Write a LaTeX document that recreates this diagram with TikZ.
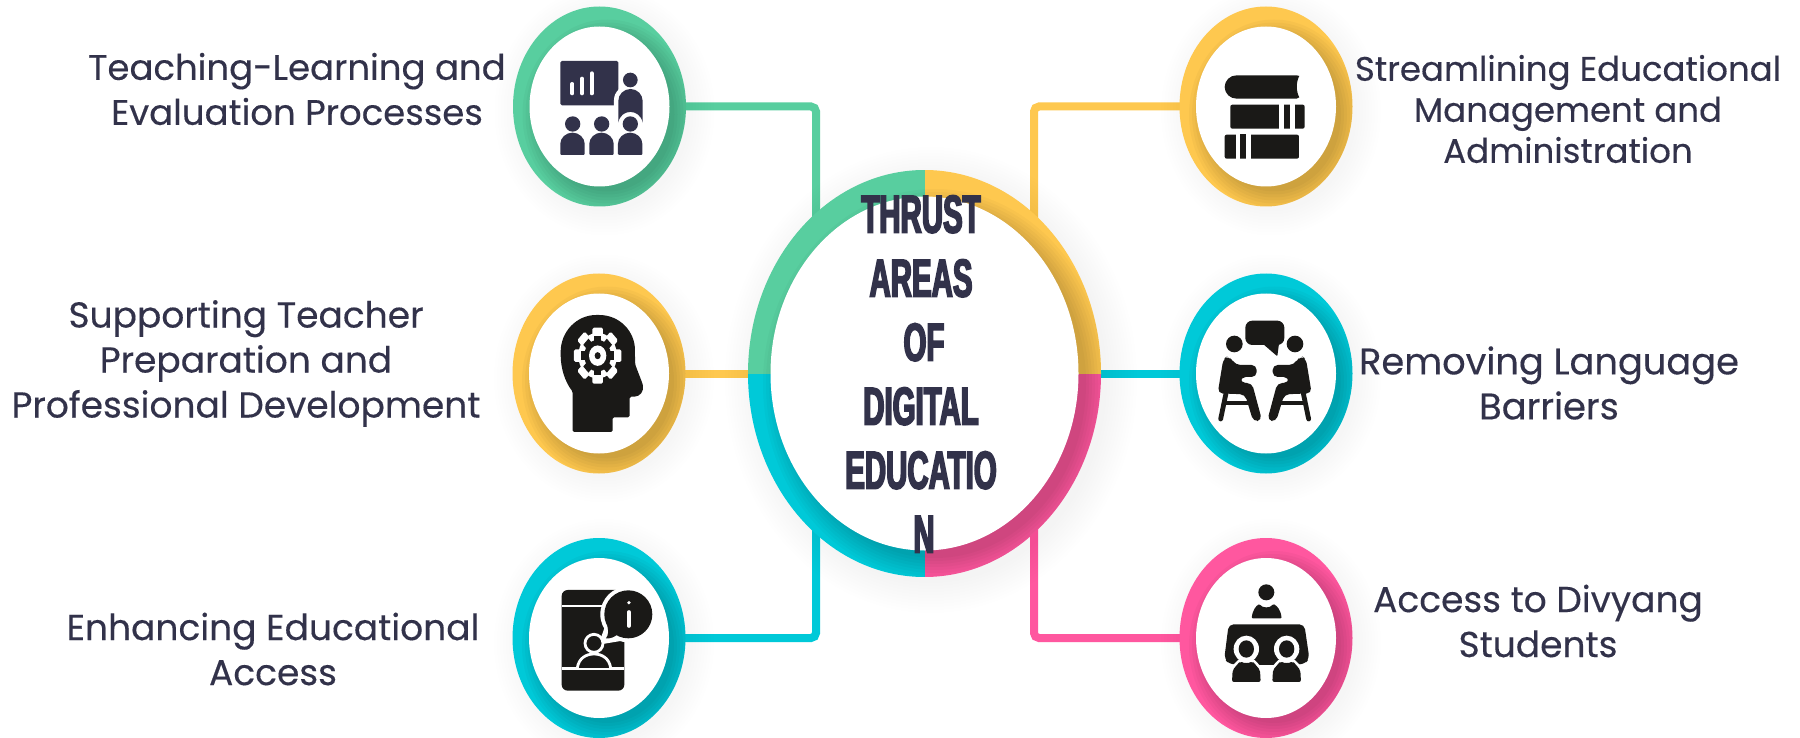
\documentclass[tikz,border=0pt]{standalone}
\usepackage{fontspec}
\usetikzlibrary{shapes.geometric,calc}
\setmainfont{Poppins}[FakeBold=0.3]
\newfontfamily\bebas[FakeStretch=0.55,BoldFeatures={FakeStretch=0.55,FakeBold=3}]{Liberation Sans}
\definecolor{gr}{HTML}{58CE9F}
\definecolor{ye}{HTML}{FEC84F}
\definecolor{cy}{HTML}{00C9D8}
\definecolor{pk}{HTML}{FF579F}
\definecolor{ink}{HTML}{32324A}
\definecolor{blk}{HTML}{1A1917}
\pgfdeclarelayer{bg}
\pgfsetlayers{bg,main}
\tikzset{
  satnode/.style={ellipse,inner sep=0pt,outer sep=0pt,minimum width=173pt,minimum height=200pt},
  hole/.style={ellipse,inner sep=0pt,outer sep=0pt,fill=white,minimum width=140pt,minimum height=160pt},
  hubnode/.style={ellipse,inner sep=0pt,outer sep=0pt,minimum width=353pt,minimum height=407pt},
  hubhole/.style={ellipse,inner sep=0pt,outer sep=0pt,fill=white,minimum width=308pt,minimum height=354pt},
  conn/.style={line width=8pt,rounded corners=5pt},
  lab/.style={align=center,text=ink,inner sep=0pt,font=\fontsize{36}{45}\selectfont},
  hubtext/.style={align=center,text=ink,inner sep=0pt,font=\bebas\bfseries\fontsize{53.5}{64}\selectfont},
  zoomed/.style={x=0.3333pt,y=-0.3333pt}
}
\newcommand\satellite[4]{%
  \foreach \k in {0,3,...,24}{\fill[black,opacity=.005] (#2+5,#3+5) circle[x radius={86+\k},y radius={100+\k}];}
  \node[satnode,fill=#4] (#1) at (#2,#3) {};
  \begin{scope}
    \clip (#2,#3) circle[x radius=86.5,y radius=100];
    \foreach \k in {-3,0,...,15}{\fill[black,opacity=.028] (#2+8,#3+8) circle[x radius={70+\k},y radius={80+\k}];}
  \end{scope}
  \node[hole] (#1h) at (#2,#3) {};
}
\newcommand\seatfig{%
  \fill[blk] (193,237) circle[radius=25];
  \fill[blk,rounded corners=5pt] (143,385) -- (160,282) -- (175,272) -- (190,290) -- (196,300) -- (260,300) -- (260,336) -- (212,336) -- (212,354) -- (246,354) -- (276,466) -- (250,470) -- (225,388) -- cycle;
  \draw[blk,line width=4.8pt,line cap=round] (168,385) -- (152,462);
  \draw[blk,line width=3.4pt] (165,414) -- (235,414);
}
\begin{document}
\begin{tikzpicture}[x=1pt,y=-1pt]
\useasboundingbox (0,0) rectangle (1800,738);

\satellite{s1}{599.5}{106.5}{gr}
\satellite{s2}{599}{373.5}{ye}
\satellite{s3}{599}{638}{cy}
\satellite{s4}{1266}{106.5}{ye}
\satellite{s5}{1266}{373.5}{cy}
\satellite{s6}{1266}{638}{pk}

% hub
\foreach \k in {0,3,...,30}{\fill[black,opacity=.005] (931,380) circle[x radius={176+\k},y radius={203+\k}];}
\node[hubnode] (hub) at (924.5,373.5) {};
\begin{scope}
  \clip (924.5,373.5) circle[x radius=176.5,y radius=203.5];
  \fill[gr] (740,160) rectangle (924.5,373.5);
  \fill[ye] (924.5,160) rectangle (1110,373.5);
  \fill[cy] (740,373.5) rectangle (924.5,590);
  \fill[pk] (924.5,373.5) rectangle (1110,590);
  \foreach \k in {-3,0,...,18}{\fill[black,opacity=.024] (935,384) circle[x radius={154+\k},y radius={177+\k}];}
\end{scope}
\node[hubhole] (hubh) at (924.5,373.5) {};

\begin{pgfonlayer}{bg}
  \fill[white] (0,0) rectangle (1800,738);
  \draw[conn,gr] (s1.center) -| ([xshift=-108.5pt]hub.center);
  \draw[conn,ye] (s2.center) -- (hub.center);
  \draw[conn,cy] (s3.center) -| ([xshift=-108.5pt]hub.center);
  \draw[conn,ye] (s4.center) -| ([xshift=109.5pt]hub.center);
  \draw[conn,cy] (s5.center) -- (hub.center);
  \draw[conn,pk] (s6.center) -| ([xshift=109.5pt]hub.center);
\end{pgfonlayer}

% ---- icon 1: presentation
\begin{scope}[shift={(500,0)},zoomed]
  \fill[ink,rounded corners=1.5pt] (181,183) rectangle (355,316);
  \foreach \xx/\yy in {217/252,246/236,275/220}{\draw[white,line width=4pt,line cap=round] (\xx,\yy) -- (\xx,280);}
  \fill[white] (391,240) circle[radius=30];
  \fill[white] (342,370) -- (342,300) arc[start angle=180,end angle=360,x radius=49,y radius=45] -- (440,370) -- cycle;
  \fill[ink] (391,240) circle[radius=22];
  \fill[ink] (355,368) -- (355,303) arc[start angle=180,end angle=360,x radius=36.5,y radius=36] -- (428,368) .. controls (420,325) and (362,325) .. (355,368) -- cycle;
  \foreach \xx in {218,305,391}{
    \fill[ink] (\xx,372) circle[radius=23];
    \fill[ink,rounded corners=1pt] (\xx-37,465) -- (\xx-37,434) arc[start angle=180,end angle=360,x radius=36.5,y radius=36] -- (\xx+36,465) -- cycle;
  }
\end{scope}

% ---- icon 2: head with gear
\begin{scope}[shift={(500,260)},zoomed]
  \fill[blk,rounded corners=1.5pt] (218,516) -- (218,395) .. controls (195,365) and (182,325) .. (182,280) .. controls (182,215) and (230,165) .. (293,165) .. controls (360,165) and (405,215) .. (405,275) .. controls (405,295) and (405,310) .. (408,320) -- (428,372) .. controls (432,395) and (420,409) .. (400,410) -- (389,410) -- (389,472) -- (338,472) -- (338,516) -- cycle;
  \begin{scope}[shift={(293,287)},yscale=1.18]
    \fill[white] circle[radius=58];
    \foreach \a in {0,45,...,315}{\fill[white,rotate=\a,rounded corners=1.5pt] (-16,-71) rectangle (16,-45);}
    \fill[blk] circle[radius=40];
    \foreach \a in {0,45,...,315}{\fill[blk,rotate=\a] (-11,-50) rectangle (11,-30);}
    \fill[white] circle[radius=26];
    \fill[blk] circle[radius=9];
  \end{scope}
\end{scope}

% ---- icon 3: phone with info
\begin{scope}[shift={(500,530)},zoomed]
  \fill[blk,rounded corners=6pt] (185,180) rectangle (373,482);
  \fill[white] (185,224) rectangle (373,232);
  \fill[white] (185,411) rectangle (373,420);
  \fill[white] (385,253) circle[radius=84];
  \fill[white] (296,344) -- (318,280) -- (380,330) -- cycle;
  \fill[blk] (385,253) circle[radius=72];
  \fill[blk] (322,288) .. controls (326,305) and (325,315) .. (318,325) .. controls (330,327) and (345,320) .. (352,314) -- cycle;
  \fill[white] (387,218) circle[radius=5.5];
  \draw[white,line width=3.6pt,line cap=round] (387,246) -- (387,288);
  \draw[white,line width=2.8pt,fill=blk] (282,340) circle[radius=27];
  \draw[white,line width=2.8pt,fill=blk] (232,414) .. controls (236,385) and (258,372) .. (282,372) .. controls (306,372) and (328,385) .. (332,414);
\end{scope}

% ---- icon 4: books
\begin{scope}[shift={(1170,0)},zoomed]
  \fill[blk] (200,226) -- (380,226) -- (388,228) .. controls (378,245) and (378,275) .. (388,292) -- (380,296) -- (200,296) arc[start angle=90,end angle=270,x radius=36,y radius=35] -- cycle;
  \fill[blk,rounded corners=2pt] (181,314) rectangle (404,386);
  \fill[white] (328,312) rectangle (342,388);
  \fill[white] (360,312) rectangle (375,388);
  \fill[blk,rounded corners=2pt] (164,404) rectangle (387,476);
  \fill[white] (198,402) rectangle (210,478);
  \fill[white] (228,402) rectangle (244,478);
  \fill[blk] (210,402) rectangle (228,474);
\end{scope}

% ---- icon 5: two seated people
\begin{scope}[shift={(1170,265)},zoomed]
  \fill[blk,rounded corners=7pt] (226,167) rectangle (343,240);
  \fill[blk,rounded corners=1pt] (278,236) -- (322,274) -- (327,236) -- cycle;
  \seatfig
  \begin{scope}[shift={(568,0)},xscale=-1]
    \seatfig
  \end{scope}
\end{scope}

% ---- icon 6: table with three people
\begin{scope}[shift={(1170,530)},zoomed]
  \fill[blk] (289,187) circle[radius=24];
  \fill[blk,rounded corners=1pt] (245,265) .. controls (248,240) and (258,228) .. (268,222) .. controls (278,235) and (300,235) .. (310,222) .. controls (322,228) and (332,240) .. (335,265) -- cycle;
  \fill[blk,rounded corners=5pt] (176,283) -- (403,283) -- (418,385) -- (405,402) -- (350,405) -- (230,405) -- (176,402) -- (163,385) -- cycle;
  \foreach \xx in {229,350}{
    \fill[white] (\xx,357) circle[x radius=38,y radius=40];
    \fill[blk] (\xx,357) circle[x radius=23,y radius=26];
    \fill[white,rounded corners=2pt] (\xx-51,456) -- (\xx-49,415) -- (\xx-20,385) -- (\xx+20,385) -- (\xx+49,415) -- (\xx+51,456) -- cycle;
    \fill[blk,rounded corners=2pt] (\xx-43,456) -- (\xx-41,420) -- (\xx-18,393) .. controls (\xx-8,400) and (\xx+8,400) .. (\xx+18,393) -- (\xx+41,420) -- (\xx+43,456) -- cycle;
  }
\end{scope}

% ---- labels
\node[lab,font=\fontsize{35.5}{45}\selectfont] (t1) at (297,89) {Teaching-Learning and\\Evaluation Processes};
\node[lab] (t2) at (246,363.5) {Supporting Teacher\\Preparation and\\Professional Development};
\node[lab] (t3) at (273,649) {Enhancing Educational\\Access};
\node[lab,font=\fontsize{34}{41}\selectfont] (t4) at (1568,109) {Streamlining Educational\\Management and\\Administration};
\node[lab,font=\fontsize{36.8}{45}\selectfont] (t5) at (1549,383) {Removing Language\\Barriers};
\node[lab] (t6) at (1538,621) {Access to Divyang\\Students};
\node[hubtext] (ht) at (921,374) {THRUST\\AREAS\\\hspace{6pt}OF\\DIGITAL\\EDUCATIO\\\hspace{6pt}N};
\end{tikzpicture}
\end{document}
